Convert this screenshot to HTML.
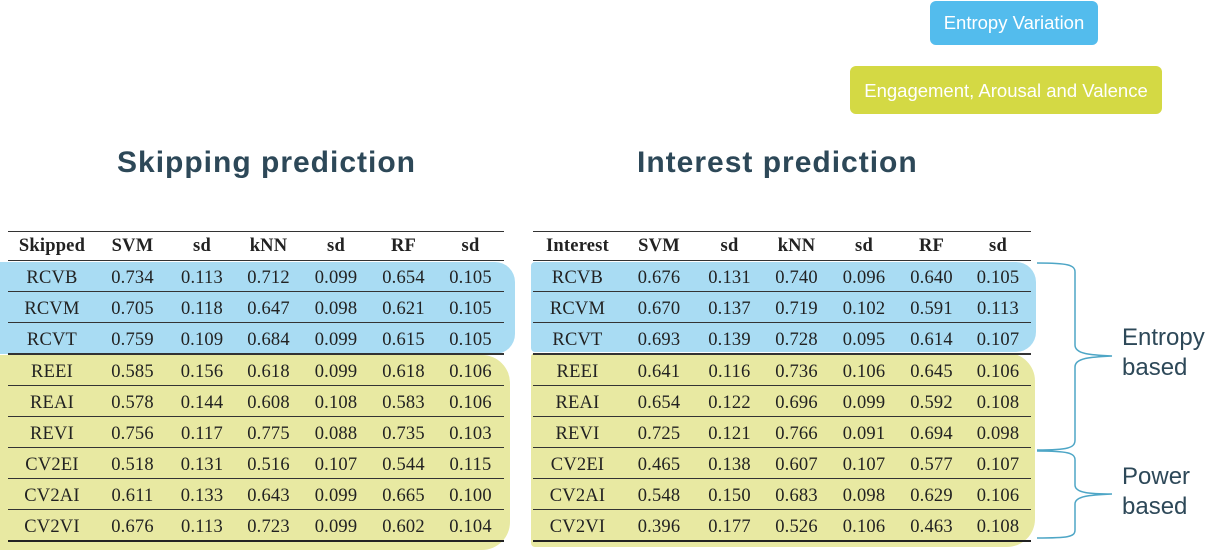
<!DOCTYPE html>
<html><head><meta charset="utf-8"><style>
body{margin:0;width:1221px;height:547px;background:#fff;position:relative;overflow:hidden;font-family:"Liberation Sans",sans-serif}
.abs{position:absolute}
.bx{position:absolute;border-radius:22px}
table{position:absolute;border-collapse:collapse;font-family:"Liberation Serif",serif;font-size:18.5px;letter-spacing:0.2px;color:#222;table-layout:fixed}
td,th{text-align:center;padding:0;border-bottom:1.3px solid #333}
td{height:25px;padding-top:5px}
th{height:28px;font-weight:bold;font-size:18.5px;border-top:1.5px solid #333}
tr.last td{border-bottom:2px solid #222}
.sep td{border-bottom:2px solid #333}
.t{position:absolute;font-weight:bold;font-size:30px;letter-spacing:1px;color:#2d4858}
</style></head><body>
<div class="abs" style="left:930px;top:1px;width:168px;height:44px;background:#53bced;border-radius:6px;color:#fff;font-size:18.5px;line-height:44px;text-align:center">Entropy Variation</div>
<div class="abs" style="left:850px;top:66px;width:312px;height:48px;background:#d4d944;border-radius:6px;color:#fff;font-size:18.5px;line-height:50px;text-align:center">Engagement, Arousal and Valence</div>
<div class="t" style="left:117px;top:146px">Skipping prediction</div>
<div class="t" style="left:637px;top:146px">Interest prediction</div>

<div class="bx" style="left:0;top:262px;width:515px;height:92px;background:#a9dcf3;border-radius:0 20px 20px 0"></div>
<div class="bx" style="left:0;top:355px;width:510px;height:195px;background:#e8e9a2;border-radius:0 28px 28px 0"></div>
<div class="bx" style="left:531px;top:262px;width:505px;height:90px;background:#a9dcf3;border-radius:4px 20px 20px 4px"></div>
<div class="bx" style="left:531px;top:353px;width:504px;height:194px;background:#e8e9a2;border-radius:4px 28px 28px 4px"></div>

<table style="left:8px;top:231px;width:496px">
<colgroup><col style="width:88px"><col style="width:73px"><col style="width:66px"><col style="width:67px"><col style="width:68px"><col style="width:67px"><col style="width:67px"></colgroup>
<tr><th>Skipped</th><th>SVM</th><th>sd</th><th>kNN</th><th>sd</th><th>RF</th><th>sd</th></tr>
<tr><td>RCVB</td><td>0.734</td><td>0.113</td><td>0.712</td><td>0.099</td><td>0.654</td><td>0.105</td></tr>
<tr><td>RCVM</td><td>0.705</td><td>0.118</td><td>0.647</td><td>0.098</td><td>0.621</td><td>0.105</td></tr>
<tr class="sep"><td>RCVT</td><td>0.759</td><td>0.109</td><td>0.684</td><td>0.099</td><td>0.615</td><td>0.105</td></tr>
<tr><td>REEI</td><td>0.585</td><td>0.156</td><td>0.618</td><td>0.099</td><td>0.618</td><td>0.106</td></tr>
<tr><td>REAI</td><td>0.578</td><td>0.144</td><td>0.608</td><td>0.108</td><td>0.583</td><td>0.106</td></tr>
<tr><td>REVI</td><td>0.756</td><td>0.117</td><td>0.775</td><td>0.088</td><td>0.735</td><td>0.103</td></tr>
<tr><td>CV2EI</td><td>0.518</td><td>0.131</td><td>0.516</td><td>0.107</td><td>0.544</td><td>0.115</td></tr>
<tr><td>CV2AI</td><td>0.611</td><td>0.133</td><td>0.643</td><td>0.099</td><td>0.665</td><td>0.100</td></tr>
<tr class="last"><td>CV2VI</td><td>0.676</td><td>0.113</td><td>0.723</td><td>0.099</td><td>0.602</td><td>0.104</td></tr>
</table>

<table style="left:533px;top:231px;width:498px">
<colgroup><col style="width:89px"><col style="width:74px"><col style="width:67px"><col style="width:67px"><col style="width:68px"><col style="width:67px"><col style="width:66px"></colgroup>
<tr><th>Interest</th><th>SVM</th><th>sd</th><th>kNN</th><th>sd</th><th>RF</th><th>sd</th></tr>
<tr><td>RCVB</td><td>0.676</td><td>0.131</td><td>0.740</td><td>0.096</td><td>0.640</td><td>0.105</td></tr>
<tr><td>RCVM</td><td>0.670</td><td>0.137</td><td>0.719</td><td>0.102</td><td>0.591</td><td>0.113</td></tr>
<tr class="sep"><td>RCVT</td><td>0.693</td><td>0.139</td><td>0.728</td><td>0.095</td><td>0.614</td><td>0.107</td></tr>
<tr><td>REEI</td><td>0.641</td><td>0.116</td><td>0.736</td><td>0.106</td><td>0.645</td><td>0.106</td></tr>
<tr><td>REAI</td><td>0.654</td><td>0.122</td><td>0.696</td><td>0.099</td><td>0.592</td><td>0.108</td></tr>
<tr><td>REVI</td><td>0.725</td><td>0.121</td><td>0.766</td><td>0.091</td><td>0.694</td><td>0.098</td></tr>
<tr><td>CV2EI</td><td>0.465</td><td>0.138</td><td>0.607</td><td>0.107</td><td>0.577</td><td>0.107</td></tr>
<tr><td>CV2AI</td><td>0.548</td><td>0.150</td><td>0.683</td><td>0.098</td><td>0.629</td><td>0.106</td></tr>
<tr class="last"><td>CV2VI</td><td>0.396</td><td>0.177</td><td>0.526</td><td>0.106</td><td>0.463</td><td>0.108</td></tr>
</table>

<svg class="abs" style="left:0;top:0" width="1221" height="547">
<g fill="none" stroke="#4ea6c6" stroke-width="1.5">
<path d="M1037,263 C1068,263 1075,265 1075,272 L1075,345 C1075,354 1090,355 1112,356 C1090,357 1075,358 1075,367 L1075,440 C1075,448 1068,450 1037,450"/>
<path d="M1037,451 C1068,451 1075,453 1075,460 L1075,485 C1075,493 1090,494 1112,494 C1090,495 1075,496 1075,504 L1075,530 C1075,537 1068,538 1037,538"/>
</g>
</svg>
<div class="abs" style="left:1122px;top:323px;font-size:24px;line-height:30px;color:#2d4858">Entropy<br>based</div>
<div class="abs" style="left:1122px;top:462px;font-size:24px;line-height:30px;color:#2d4858">Power<br>based</div>
</body></html>
